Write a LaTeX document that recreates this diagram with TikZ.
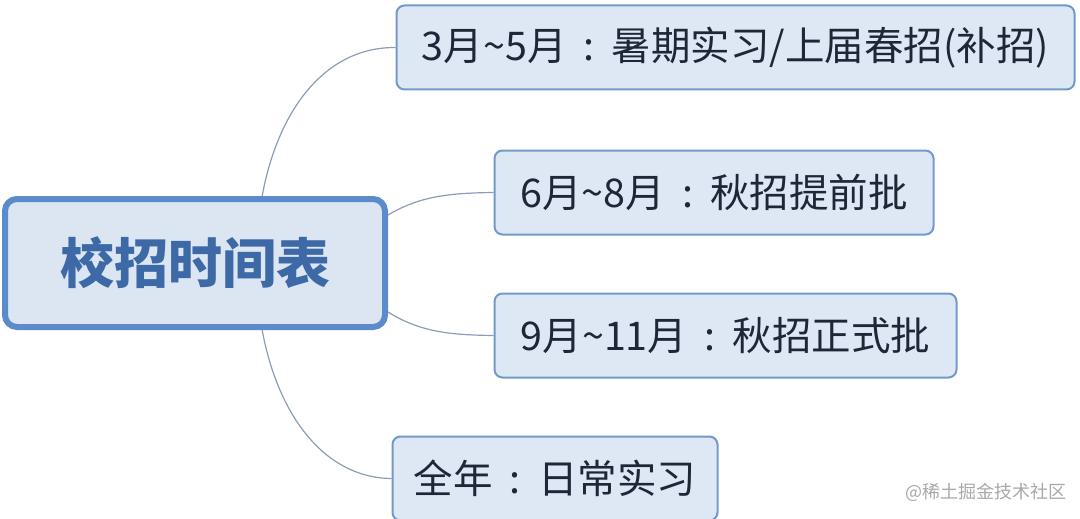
\documentclass[tikz,border=0pt]{standalone}
\usepackage{fontspec}
\usetikzlibrary{calc}
\newfontfamily\cjk{Noto Sans CJK SC}
\definecolor{rootfill}{HTML}{DCE5F2}
\definecolor{rootdraw}{HTML}{5B8BCB}
\definecolor{subfill}{HTML}{DEE8F4}
\definecolor{subdraw}{HTML}{7199CB}
\definecolor{roottext}{HTML}{3D6AA6}
\definecolor{subtext}{HTML}{1E2638}
\definecolor{linkcol}{HTML}{8C9CB8}
\definecolor{markcol}{HTML}{A8A8A8}
\newcommand{\tld}{\textasciitilde}
\newcommand{\cln}{\makebox[1.15em]{:}}
\begin{document}
\begin{tikzpicture}[x=1pt,y=-1pt,
  rootbox/.style={draw=rootdraw,fill=rootfill,line width=6pt,rounded corners=12pt,
    minimum width=380pt,minimum height=128pt,inner sep=0pt,
    font=\cjk\bfseries\fontsize{54}{58}\selectfont,text=roottext},
  subbox/.style={draw=subdraw,fill=subfill,line width=2pt,rounded corners=8pt,
    minimum height=84pt,inner sep=0pt,
    font=\cjk\fontsize{39.5}{43}\selectfont,text=subtext},
  link/.style={draw=linkcol,line width=1.2pt}]
\useasboundingbox (0,0) rectangle (1080,519);
\node[rootbox] (root) at (195,263) {校招时间表};
\node[subbox,minimum width=678pt] (n1) at (735.5,47.5) {3月\tld 5月\cln 暑期实习/上届春招(补招)};
\node[subbox,minimum width=439pt] (n2) at (714,192.5) {6月\tld 8月\cln 秋招提前批};
\node[subbox,minimum width=462pt] (n3) at (725.5,335.5) {9月\tld 11月\cln 秋招正式批};
\node[subbox,minimum width=325pt] (n4) at (555,478.5) {全年\cln 日常实习};
\node[text=markcol,font=\cjk\fontsize{18}{20}\selectfont,anchor=east] (wm) at (1070,492) {@稀土掘金技术社区};
\coordinate (s1) at ($(root.north west)!0.674!(root.north east)$);
\coordinate (s4) at ($(root.south west)!0.674!(root.south east)$);
\coordinate (s2) at ($(root.east)+(0,-48)$);
\coordinate (s3) at ($(root.east)+(0,49)$);
\draw[link] (s1) .. controls (278,110) and (325,47) .. (n1.west);
\draw[link] (s2) .. controls (420,196) and (450,193) .. (n2.west);
\draw[link] (s3) .. controls (420,332) and (450,335) .. (n3.west);
\draw[link] (s4) .. controls (278,416) and (325,478) .. (n4.west);
\end{tikzpicture}
\end{document}
